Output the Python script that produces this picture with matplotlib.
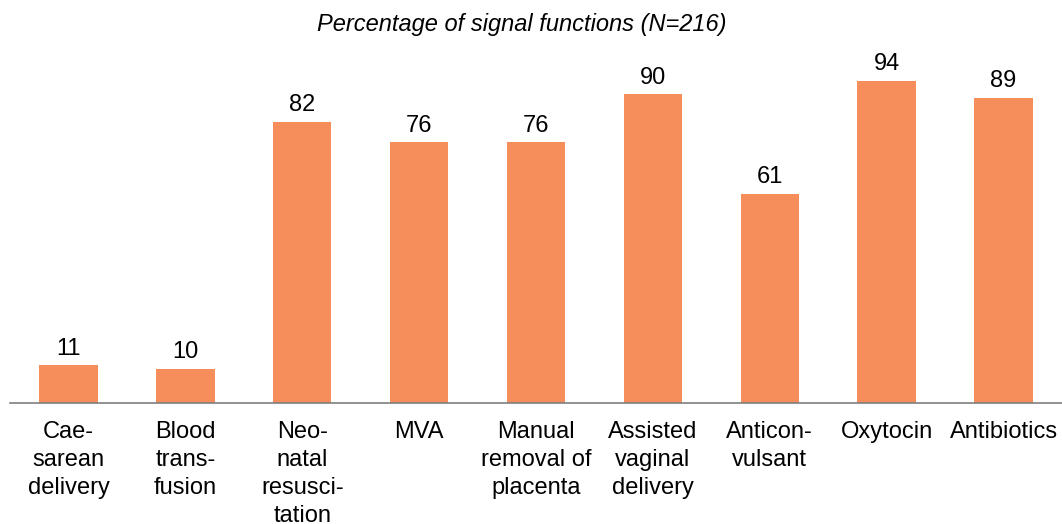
import matplotlib
matplotlib.use('Agg')
import matplotlib.pyplot as plt

# Signal function categories and percentages
labels = ['Cae-\nsarean\ndelivery', 'Blood\ntrans-\nfusion', 'Neo-\nnatal\nresusci-\ntation',
          'MVA', 'Manual\nremoval of\nplacenta', 'Assisted\nvaginal\ndelivery',
          'Anticon-\nvulsant', 'Oxytocin', 'Antibiotics']
values = [11, 10, 82, 76, 76, 90, 61, 94, 89]

plt.rcParams['font.family'] = ['Liberation Sans', 'DejaVu Sans']

fig = plt.figure(figsize=(10.62, 5.24), dpi=100)
ax = fig.add_axes([10 / 1062, 121 / 524, 1052 / 1062, 343 / 524])

x = range(len(values))
bars = ax.bar(x, values, width=0.5, color='#F58E5A')
ax.set_xlim(-0.5, 8.5)
ax.set_ylim(0, 100)

# value labels above bars
for b, v in zip(bars, values):
    ax.annotate(str(v), (b.get_x() + b.get_width() / 2, v), xytext=(0, 4),
                textcoords='offset points', ha='center', va='bottom', fontsize=17)

ax.set_xticks(list(x))
ax.set_xticklabels(labels, fontsize=17, linespacing=1.35, va='top')
ax.tick_params(axis='x', length=0, pad=13)
ax.set_yticks([])

for s in ['top', 'right', 'left']:
    ax.spines[s].set_visible(False)
ax.spines['bottom'].set_color('#7f7f7f')
ax.spines['bottom'].set_linewidth(1.2)

fig.text(522 / 1062, 1 - 24 / 524, 'Percentage of signal functions (N=216)',
         ha='center', va='center', fontsize=17, style='italic')

fig.savefig('out.png', dpi=100)
